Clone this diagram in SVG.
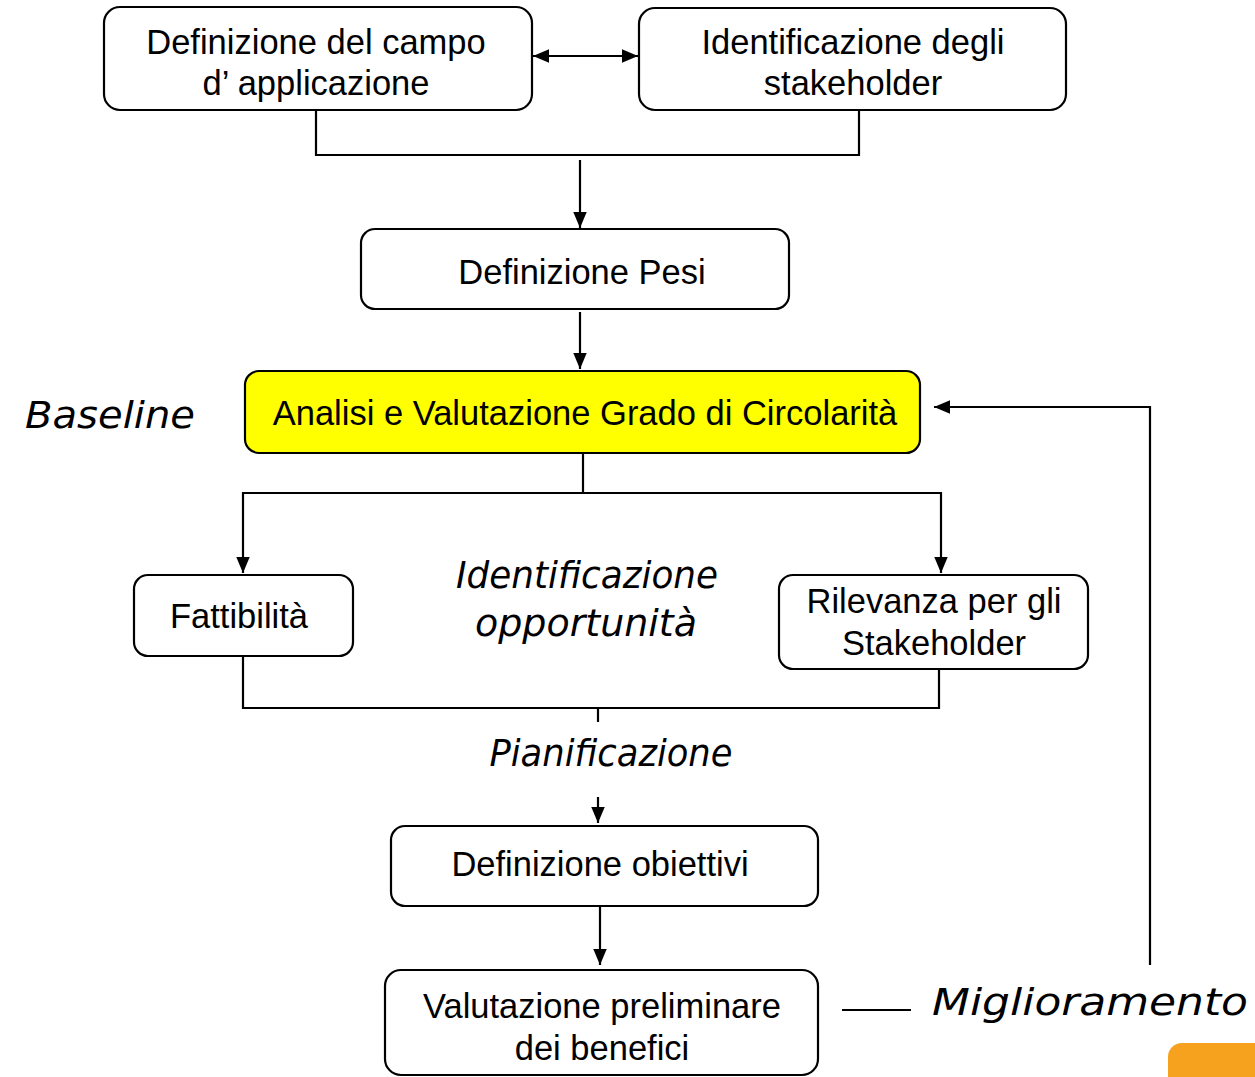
<svg xmlns="http://www.w3.org/2000/svg" width="1255" height="1077" viewBox="0 0 1255 1077">
<defs>
<marker id="ahL" viewBox="0 0 10 10" refX="10" refY="5" markerWidth="16" markerHeight="16" markerUnits="userSpaceOnUse" orient="auto-start-reverse"><path d="M0,0.8 L10,5 L0,9.2 z" fill="#000"/></marker>
<style>
.box{fill:#fff;stroke:#000;stroke-width:2.2}
.t{font-family:"Liberation Sans",Arial,sans-serif;font-size:34.5px;fill:#000;text-anchor:middle}
.h{font-family:"DejaVu Sans",sans-serif;font-style:italic;font-size:38px;fill:#000;text-anchor:middle}
.c{fill:none;stroke:#000;stroke-width:2.2}
</style>
</defs>
<rect width="1255" height="1077" fill="#fff"/>
<g id="connectors">
<line class="c" x1="533" y1="56" x2="638" y2="56" marker-start="url(#ahL)" marker-end="url(#ahL)"/>
<polyline class="c" points="316,110 316,155 859,155 859,110"/>
<line class="c" x1="580" y1="160" x2="580" y2="228" marker-end="url(#ahL)"/>
<line class="c" x1="580" y1="312" x2="580" y2="369" marker-end="url(#ahL)"/>
<polyline class="c" points="583,453 583,493"/>
<polyline class="c" points="243,573 243,493 941,493 941,573" marker-start="url(#ahL)" marker-end="url(#ahL)"/>
<polyline class="c" points="243,656 243,708 939,708 939,669"/>
<line class="c" x1="598" y1="708" x2="598" y2="722"/>
<line class="c" x1="598" y1="797" x2="598" y2="823" marker-end="url(#ahL)"/>
<line class="c" x1="600" y1="907" x2="600" y2="965" marker-end="url(#ahL)"/>
<line class="c" x1="842" y1="1010" x2="911" y2="1010"/>
<polyline class="c" points="1150,965 1150,407 934,407" marker-end="url(#ahL)"/>
</g>
<g id="n1"><rect class="box" x="104" y="7" width="428" height="103" rx="16"/><text class="t" x="316" y="54">Definizione del campo</text><text class="t" x="316" y="95">d’ applicazione</text></g>
<g id="n2"><rect class="box" x="639" y="8" width="427" height="102" rx="16"/><text class="t" x="853" y="54">Identificazione degli</text><text class="t" x="853" y="95">stakeholder</text></g>
<g id="n3"><rect class="box" x="361" y="229" width="428" height="80" rx="14"/><text class="t" x="582" y="284">Definizione Pesi</text></g>
<g id="n4"><rect x="245" y="371" width="675" height="82" rx="14" fill="#ffff00" stroke="#000" stroke-width="2.2"/><text class="t" x="585" y="425">Analisi e Valutazione Grado di Circolarità</text></g>
<g id="n5"><rect class="box" x="134" y="575" width="219" height="81" rx="14"/><text class="t" x="239" y="628">Fattibilità</text></g>
<g id="n6"><rect class="box" x="779" y="575" width="309" height="94" rx="14"/><text class="t" x="934" y="613">Rilevanza per gli</text><text class="t" x="934" y="655">Stakeholder</text></g>
<g id="n7"><rect class="box" x="391" y="826" width="427" height="80" rx="14"/><text class="t" x="600" y="876">Definizione obiettivi</text></g>
<g id="n8"><rect class="box" x="385" y="970" width="433" height="105" rx="16"/><text class="t" x="602" y="1018">Valutazione preliminare</text><text class="t" x="602" y="1060">dei benefici</text></g>
<g id="labels">
<text class="h" x="110" y="428" textLength="170" lengthAdjust="spacingAndGlyphs">Baseline</text>
<text class="h" x="587" y="588" textLength="262" lengthAdjust="spacingAndGlyphs">Identificazione</text>
<text class="h" x="586" y="636" textLength="222" lengthAdjust="spacingAndGlyphs">opportunità</text>
<text class="h" x="611" y="766" textLength="243" lengthAdjust="spacingAndGlyphs">Pianificazione</text>
<text class="h" x="1090" y="1015" textLength="316" lengthAdjust="spacingAndGlyphs">Miglioramento</text>
</g>
<rect x="1168" y="1043" width="110" height="70" rx="14" fill="#f7a21e"/>
</svg>
